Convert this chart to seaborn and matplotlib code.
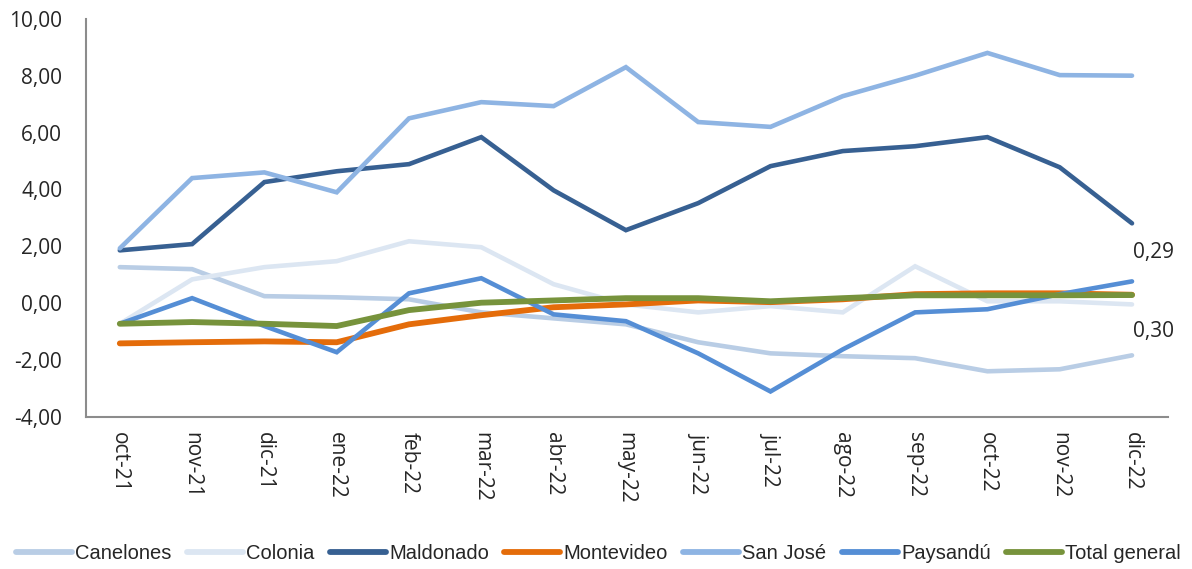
import numpy as np
import pandas as pd
import matplotlib
matplotlib.use("Agg")
import matplotlib.pyplot as plt
import seaborn as sns

# data
months = ["oct-21", "nov-21", "dic-21", "ene-22", "feb-22", "mar-22", "abr-22",
          "may-22", "jun-22", "jul-22", "ago-22", "sep-22", "oct-22", "nov-22", "dic-22"]
canelones = [1.27, 1.20, 0.25, 0.21, 0.14, -0.32, -0.53, -0.74, -1.37, -1.76, -1.86, -1.93, -2.39, -2.32, -1.83]
colonia = [-0.72, 0.84, 1.27, 1.48, 2.18, 1.97, 0.67, -0.04, -0.32, -0.10, -0.32, 1.30, 0.07, 0.07, -0.04]
maldonado = [1.86, 2.08, 4.26, 4.64, 4.89, 5.84, 3.97, 2.57, 3.52, 4.82, 5.35, 5.52, 5.84, 4.78, 2.81]
montevideo = [-1.41, -1.37, -1.34, -1.37, -0.74, -0.42, -0.14, -0.04, 0.10, 0.04, 0.14, 0.32, 0.35, 0.35, 0.30]
san_jose = [1.93, 4.40, 4.60, 3.90, 6.50, 7.07, 6.93, 8.30, 6.37, 6.20, 7.28, 8.00, 8.80, 8.02, 8.00]
paysandu = [-0.72, 0.18, -0.80, -1.72, 0.35, 0.88, -0.39, -0.63, -1.76, -3.10, -1.62, -0.32, -0.21, 0.32, 0.77]
total = [-0.72, -0.66, -0.72, -0.80, -0.24, 0.02, 0.10, 0.18, 0.18, 0.07, 0.18, 0.28, 0.28, 0.28, 0.29]

series = {
    "Canelones": canelones,
    "Colonia": colonia,
    "Maldonado": maldonado,
    "Montevideo": montevideo,
    "San José": san_jose,
    "Paysandú": paysandu,
    "Total general": total,
}
colors = {
    "Canelones": "#B9CDE5",
    "Colonia": "#DCE6F2",
    "Maldonado": "#376092",
    "Montevideo": "#E46C0A",
    "San José": "#8EB4E3",
    "Paysandú": "#558ED5",
    "Total general": "#77933C",
}
widths = {k: 3.3 for k in series}
widths["Montevideo"] = 4.2
widths["Total general"] = 4.2

df = pd.DataFrame(series)
df["x"] = np.arange(len(months))
long = df.melt(id_vars="x", var_name="serie", value_name="valor")

sns.set_style("white")
plt.rcParams['font.family'] = ['Open Sans', 'DejaVu Sans']

fig, ax = plt.subplots(figsize=(11.92, 5.69), dpi=100)
fig.subplots_adjust(left=0.072, right=0.98, top=0.967, bottom=0.267)

for name in series:
    sub = long[long["serie"] == name]
    sns.lineplot(data=sub, x="x", y="valor", ax=ax, color=colors[name],
                 linewidth=widths[name], label=name, solid_capstyle="round",
                 solid_joinstyle="miter")

ax.set_xlim(-0.47, 14.5)
ax.set_ylim(-4, 10)
ax.set_yticks(np.arange(-4, 11, 2))
ax.set_yticklabels([f"{v:.2f}".replace(".", ",") for v in np.arange(-4, 11, 2)], fontsize=15)
ax.set_xticks(np.arange(len(months)))
ax.set_xticklabels(months, rotation=270, fontsize=15)
ax.tick_params(axis="y", length=0, pad=17)
ax.tick_params(axis="x", length=0, pad=11)
ax.set_xlabel("")
ax.set_ylabel("")
for s in ["top", "right"]:
    ax.spines[s].set_visible(False)
for s in ["left", "bottom"]:
    ax.spines[s].set_color("#8C8C8C")
    ax.spines[s].set_linewidth(1.5)

ax.text(14.02, 1.79, "0,29", fontsize=15, va="center", ha="left")
ax.text(14.02, -0.98, "0,30", fontsize=15, va="center", ha="left")

handles, labels = ax.get_legend_handles_labels()
ax.get_legend().remove()
leg = fig.legend(handles, labels, loc="center", bbox_to_anchor=(0.502, 0.027), ncol=7, frameon=False,
                 handlelength=2.8, handletextpad=0.15, columnspacing=0.75,
                 prop={'family': ['Liberation Sans'], 'size': 14.5})
for line in leg.get_lines():
    line.set_linewidth(4.2)

fig.savefig("out.png", dpi=100)
